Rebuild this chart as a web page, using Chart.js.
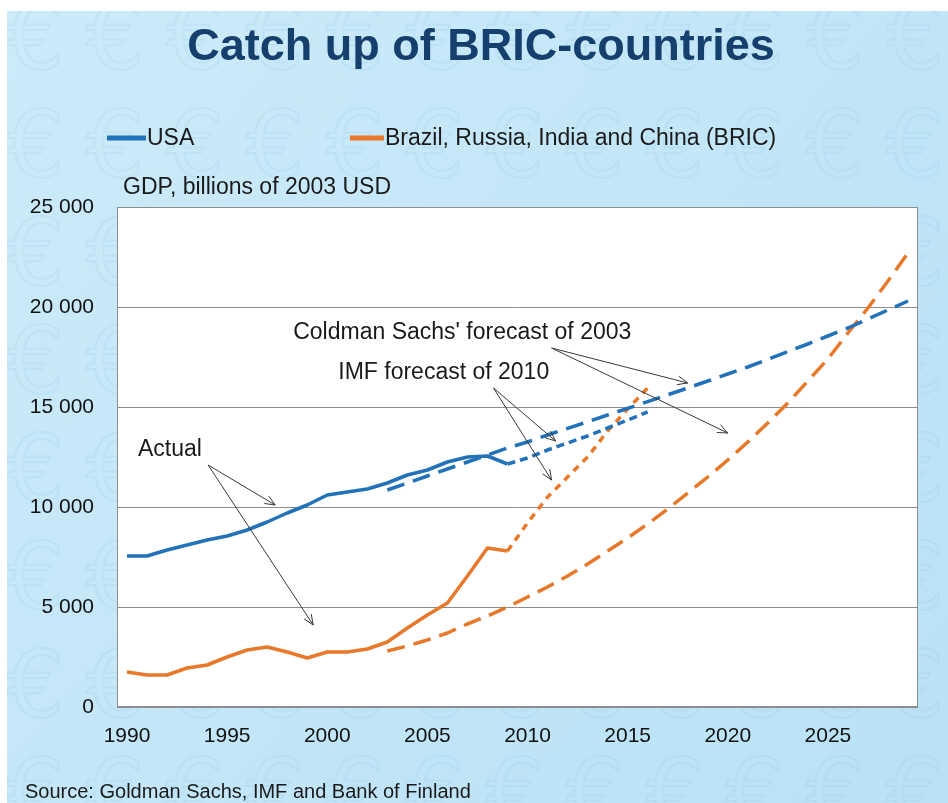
<!DOCTYPE html>
<html>
<head>
<meta charset="utf-8">
<title>Catch up of BRIC-countries</title>
<script src="https://cdn.jsdelivr.net/npm/chart.js@4.4.0/dist/chart.umd.min.js"></script>
<style>
  html, body { margin: 0; padding: 0; background: #fff; }
  #wrap { width: 948px; height: 803px; }
</style>
</head>
<body>
<div id="wrap"><canvas id="bric" width="948" height="803"></canvas></div>
<script>
// ---- data (GDP, billions of 2003 USD) ----
const actualYears = [1990, 1991, 1992, 1993, 1994, 1995, 1996, 1997, 1998, 1999,
                     2000, 2001, 2002, 2003, 2004, 2005, 2006, 2007, 2008, 2009];
const gsYears = [2003, 2004, 2005, 2006, 2007, 2008, 2009, 2010, 2011, 2012, 2013, 2014, 2015, 2016,
                 2017, 2018, 2019, 2020, 2021, 2022, 2023, 2024, 2025, 2026, 2027, 2028, 2029];
const imfYears = [2009, 2010, 2011, 2012, 2013, 2014, 2015, 2016];

const usaActual = [7550, 7550, 7850, 8100, 8350, 8550, 8850, 9250, 9700, 10100,
                   10600, 10750, 10900, 11200, 11600, 11850, 12250, 12500, 12550, 12150];
const bricActual = [1750, 1600, 1600, 1950, 2100, 2500, 2850, 3000, 2750, 2450,
                    2750, 2750, 2900, 3250, 3950, 4600, 5200, 6550, 7950, 7800];

const usaGS2003 = [10850, 11200, 11550, 11900, 12250, 12600, 12950, 13250, 13600, 13930, 14260, 14600, 14930, 15270,
                   15610, 15950, 16300, 16650, 17000, 17380, 17770, 18150, 18550, 18950, 19400, 19850, 20300];
const bricGS2003 = [2800, 3050, 3350, 3700, 4150, 4550, 5000, 5500, 6000, 6550, 7150, 7800, 8450, 9150,
                    9900, 10700, 11500, 12350, 13250, 14200, 15200, 16300, 17400, 18700, 19950, 21300, 22700];

const usaIMF2010 = [12150, 12450, 12850, 13200, 13550, 13950, 14350, 14750];
const bricIMF2010 = [7800, 9200, 10500, 11500, 12500, 13800, 14900, 15950];

const xTicks = [1990, 1995, 2000, 2005, 2010, 2015, 2020, 2025];
const yTicks = [0, 5000, 10000, 15000, 20000, 25000];

// annotation labels and arrows, in (year, value)
const notes = [
    { text: "Coldman Sachs' forecast of 2003", x: 1998.3, y: 18700 },
    { text: 'IMF forecast of 2010', x: 2000.55, y: 16700 },
    { text: 'Actual', x: 1990.55, y: 12850 }
];
const arrows = [
    { from: [2011.2, 17950], to: [2018.0, 16200] },
    { from: [2011.2, 17950], to: [2020.0, 13700] },
    { from: [2008.3, 15950], to: [2011.4, 13300] },
    { from: [2008.3, 15950], to: [2011.2, 11350] },
    { from: [1994.05, 12100], to: [1997.4, 10100] },
    { from: [1994.05, 12100], to: [1999.3, 4100] }
];

const BLUE = '#2272b9';
const ORANGE = '#e8782a';
const FONT = 'Liberation Sans, Arial, sans-serif';

const fmt = (v) => String(v).replace(/\B(?=(\d{3})+(?!\d))/g, ' ');

const line = (label, xs, ys, color, dash, width) => ({
    label: label,
    data: xs.map((x, i) => ({ x: x, y: ys[i] })),
    borderColor: color,
    backgroundColor: color,
    borderWidth: width,
    borderDash: dash,
    borderCapStyle: 'butt',
    borderJoinStyle: 'round',
    pointRadius: 0,
    tension: 0,
    fill: false
});

// background, titles, legend
const frame = {
    id: 'frame',
    beforeDraw: (chart) => {
        const ctx = chart.ctx;
        const a = chart.chartArea;
        ctx.save();
        let g = ctx.createLinearGradient(0, 0, 948, 803);
        g.addColorStop(0, '#cdebf9');
        g.addColorStop(0.5, '#c3e6f8');
        g.addColorStop(1, '#b9e1f5');
        ctx.fillStyle = g;
        ctx.fillRect(0, 0, 948, 803);

        // faint euro pattern
        ctx.font = '92px DejaVu Sans';
        ctx.textAlign = 'center';
        ctx.textBaseline = 'middle';
        ctx.lineWidth = 2;
        ctx.strokeStyle = 'rgba(150, 200, 228, 0.2)';
        for (let r = 0; r < 8; r++) {
            for (let c = 0; c < 13; c++) {
                ctx.strokeText('\u20ac', 35 + c * 80, 45 + r * 108);
            }
        }
        // white edges
        ctx.fillStyle = '#ffffff';
        ctx.fillRect(0, 0, 948, 11);
        ctx.fillRect(0, 0, 7, 803);

        // plot background
        ctx.fillStyle = '#ffffff';
        ctx.fillRect(a.left, a.top, a.right - a.left, a.bottom - a.top);

        // title
        ctx.fillStyle = '#153f6c';
        ctx.font = 'bold 45px ' + FONT;
        ctx.textAlign = 'center';
        ctx.fillText('Catch up of BRIC-countries', 481, 48);

        // legend
        ctx.font = '23px ' + FONT;
        ctx.textAlign = 'left';
        ctx.fillStyle = '#1a1a1a';
        ctx.lineWidth = 5;
        ctx.strokeStyle = BLUE;
        ctx.beginPath(); ctx.moveTo(107, 138); ctx.lineTo(146, 138); ctx.stroke();
        ctx.fillText('USA', 147, 139);
        ctx.strokeStyle = ORANGE;
        ctx.beginPath(); ctx.moveTo(350, 138); ctx.lineTo(384, 138); ctx.stroke();
        ctx.fillText('Brazil, Russia, India and China (BRIC)', 385, 139);

        // axis title and source
        ctx.fillText('GDP, billions of 2003 USD', 123, 188);
        ctx.font = '20px ' + FONT;
        ctx.fillText('Source: Goldman Sachs, IMF and Bank of Finland', 25, 792);
        ctx.restore();
    },
    beforeDatasetsDraw: (chart) => {
        const ctx = chart.ctx;
        const a = chart.chartArea;
        ctx.save();
        ctx.strokeStyle = '#8f8f8f';
        ctx.lineWidth = 1;
        ctx.strokeRect(a.left + 0.5, a.top + 0.5, a.right - a.left - 1, a.bottom - a.top - 1);
        ctx.restore();
    },
    afterDatasetsDraw: (chart) => {
        const ctx = chart.ctx;
        const sx = chart.scales.x, sy = chart.scales.y;
        ctx.save();
        ctx.fillStyle = '#1a1a1a';
        ctx.font = '23px ' + FONT;
        ctx.textAlign = 'left';
        ctx.textBaseline = 'middle';
        notes.forEach(n => {
            ctx.fillText(n.text, sx.getPixelForValue(n.x), sy.getPixelForValue(n.y));
        });
        ctx.strokeStyle = '#3a3a3a';
        ctx.lineWidth = 1;
        arrows.forEach(ar => {
            const x1 = sx.getPixelForValue(ar.from[0]), y1 = sy.getPixelForValue(ar.from[1]);
            const x2 = sx.getPixelForValue(ar.to[0]), y2 = sy.getPixelForValue(ar.to[1]);
            const ang = Math.atan2(y2 - y1, x2 - x1);
            ctx.beginPath();
            ctx.moveTo(x1, y1);
            ctx.lineTo(x2, y2);
            ctx.moveTo(x2 - 11 * Math.cos(ang - 0.4), y2 - 11 * Math.sin(ang - 0.4));
            ctx.lineTo(x2, y2);
            ctx.lineTo(x2 - 11 * Math.cos(ang + 0.4), y2 - 11 * Math.sin(ang + 0.4));
            ctx.stroke();
        });
        ctx.restore();
    }
};

const chart = new Chart(document.getElementById('bric'), {
    type: 'line',
    data: {
        datasets: [
            line('USA, Goldman Sachs 2003', gsYears, usaGS2003, BLUE, [18, 9], 3.5),
            line('BRIC, Goldman Sachs 2003', gsYears, bricGS2003, ORANGE, [18, 9], 3.5),
            line('USA, IMF 2010', imfYears, usaIMF2010, BLUE, [8, 5], 3.5),
            line('BRIC, IMF 2010', imfYears, bricIMF2010, ORANGE, [7, 6], 3.5),
            line('USA', actualYears, usaActual, BLUE, [], 3.5),
            line('Brazil, Russia, India and China (BRIC)', actualYears, bricActual, ORANGE, [], 3.5)
        ]
    },
    options: {
        responsive: false,
        devicePixelRatio: 1,
        animation: false,
        layout: { padding: { left: 0, right: 30, top: 207, bottom: 0 } },
        plugins: {
            legend: { display: false },
            tooltip: { enabled: false },
            title: { display: false }
        },
        scales: {
            x: {
                type: 'linear',
                min: 1989.5,
                max: 2029.5,
                afterBuildTicks: (s) => { s.ticks = xTicks.map(v => ({ value: v })); },
                afterFit: (s) => { s.height = 96; },
                grid: { display: false, drawTicks: false },
                border: { display: false },
                ticks: {
                    padding: 17,
                    color: '#111111',
                    maxRotation: 0,
                    autoSkip: false,
                    font: { family: FONT, size: 21 },
                    callback: (v) => String(v)
                }
            },
            y: {
                min: 0,
                max: 25000,
                afterBuildTicks: (s) => { s.ticks = yTicks.map(v => ({ value: v })); },
                afterFit: (s) => { s.width = 117; },
                grid: { color: '#8c8c8c', lineWidth: 1, drawTicks: false },
                border: { display: false },
                ticks: {
                    padding: 23,
                    color: '#111111',
                    font: { family: FONT, size: 21 },
                    callback: (v) => fmt(v)
                }
            }
        }
    },
    plugins: [frame]
});
</script>
</body>
</html>
